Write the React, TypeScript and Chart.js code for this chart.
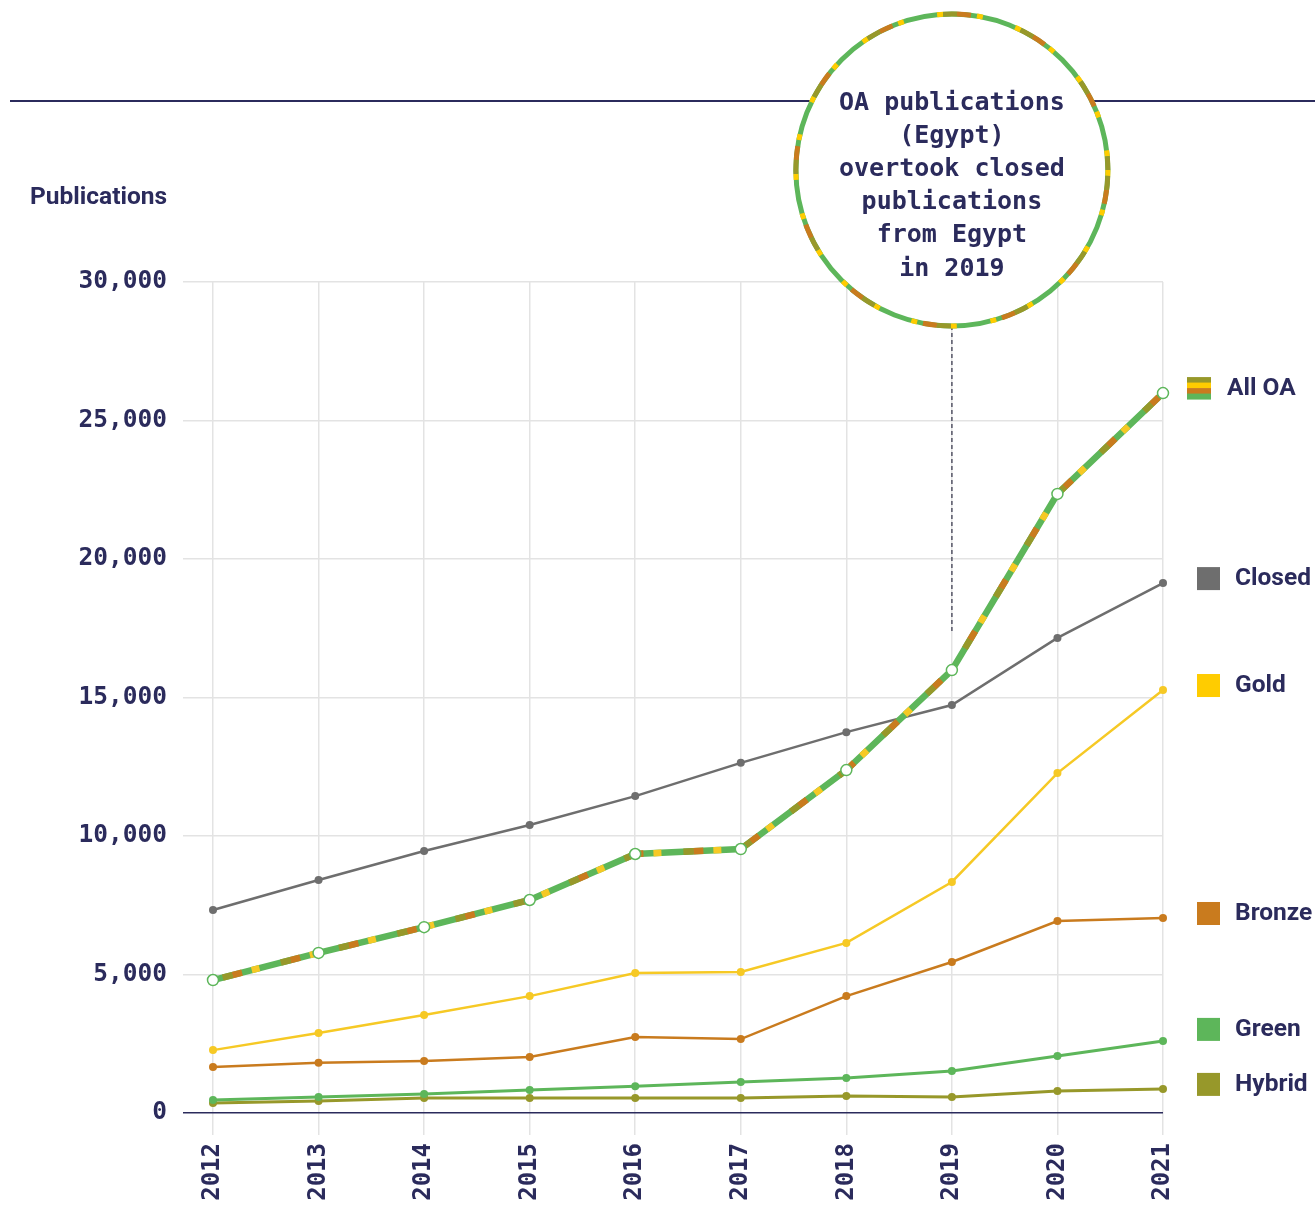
import React, { useEffect, useRef } from "react";
import { Chart, registerables } from "chart.js";

Chart.register(...registerables);

const years = ["2012", "2013", "2014", "2015", "2016", "2017", "2018", "2019", "2020", "2021"];
const allOA = [4800, 5780, 6710, 7690, 9350, 9530, 12380, 15990, 22350, 25990];
const closed = [7330, 8410, 9460, 10400, 11440, 12640, 13750, 14730, 17150, 19130];
const gold = [2270, 2890, 3540, 4220, 5050, 5090, 6140, 8340, 12270, 15270];
const bronze = [1660, 1810, 1880, 2020, 2740, 2670, 4220, 5450, 6930, 7040];
const green = [470, 580, 690, 830, 970, 1120, 1260, 1520, 2060, 2600];
const hybrid = [360, 430, 540, 540, 540, 540, 610, 580, 790, 870];
const yTickValues = [0, 5000, 10000, 15000, 20000, 25000, 30000];
const calloutYear = "2019";
const calloutLines = ["OA publications", "(Egypt)", "overtook closed", "publications", "from Egypt", "in 2019"];
const yAxisTitle = "Publications";

const NAVY = "#2b2b5c";
const C_CLOSED = "#6e6e6e";
const C_GOLD = "#f6c925";
const C_BRONZE = "#c97b1e";
const C_GREEN = "#5db65a";
const C_HYBRID = "#97982a";
const C_GOLD_SQ = "#ffcc00";
const GRID = "#e3e3e3";
const MONO = "'DejaVu Sans Mono', monospace";
const SANS = "Roboto, 'Noto Sans', sans-serif";

const legendItems = [
  { label: "All OA", data: allOA, color: "striped" },
  { label: "Closed", data: closed, color: C_CLOSED },
  { label: "Gold", data: gold, color: C_GOLD_SQ },
  { label: "Bronze", data: bronze, color: C_BRONZE },
  { label: "Green", data: green, color: C_GREEN },
  { label: "Hybrid", data: hybrid, color: C_HYBRID },
];

const stripeColors = [C_HYBRID, C_GOLD_SQ, C_BRONZE, C_GREEN];

const LINE_W = 6.5;

function overlay(color: string, len: number, start: number, period: number) {
  return {
    label: "_ov",
    data: allOA,
    borderColor: color,
    borderWidth: LINE_W,
    borderDash: [len, period - len],
    borderDashOffset: period - start,
    borderCapStyle: "butt",
    pointRadius: 0,
    pointHoverRadius: 0,
    fill: false,
    tension: 0,
    clip: false,
    order: 1,
  };
}

const decorPlugin = {
  id: "decor",
  beforeDraw(chart: any) {
    const ctx = chart.ctx;
    ctx.save();
    ctx.strokeStyle = NAVY;
    ctx.lineWidth = 2;
    ctx.beginPath();
    ctx.moveTo(10, 101);
    ctx.lineTo(chart.width, 101);
    ctx.stroke();
    ctx.fillStyle = NAVY;
    ctx.font = `bold 24.5px ${SANS}`;
    ctx.textAlign = "left";
    ctx.textBaseline = "middle";
    ctx.fillText(yAxisTitle, 30, 198);
    ctx.restore();
  },
  afterDraw(chart: any) {
    const ctx = chart.ctx;
    const xs = chart.scales.x;
    const ys = chart.scales.y;
    const idx = years.indexOf(calloutYear);
    const cx = xs.getPixelForValue(idx);
    const cy = 170;
    const r = 156;
    ctx.save();
    const pt = ys.getPixelForValue(allOA[idx]);
    ctx.strokeStyle = "#555566";
    ctx.lineWidth = 1.5;
    ctx.setLineDash([4, 3]);
    ctx.beginPath();
    ctx.moveTo(cx, cy + r);
    ctx.lineTo(cx, pt - 38);
    ctx.stroke();
    ctx.setLineDash([]);
    ctx.fillStyle = "#ffffff";
    ctx.beginPath();
    ctx.arc(cx, cy, r, 0, Math.PI * 2);
    ctx.fill();
    ctx.lineWidth = 5;
    ctx.strokeStyle = C_GREEN;
    ctx.stroke();
    const period = 80;
    const segs = [
      { c: C_GOLD_SQ, s: 0, l: 6 },
      { c: C_HYBRID, s: 6, l: 14 },
      { c: C_BRONZE, s: 20, l: 14 },
      { c: C_GOLD_SQ, s: 40, l: 6 },
    ];
    for (const sg of segs) {
      ctx.strokeStyle = sg.c;
      ctx.setLineDash([sg.l, period - sg.l]);
      ctx.lineDashOffset = period - sg.s;
      ctx.beginPath();
      ctx.arc(cx, cy, r, 0, Math.PI * 2);
      ctx.stroke();
    }
    ctx.setLineDash([]);
    ctx.lineDashOffset = 0;
    ctx.fillStyle = NAVY;
    ctx.font = `bold 25px ${MONO}`;
    ctx.textAlign = "center";
    ctx.textBaseline = "middle";
    calloutLines.forEach((t, i) => {
      ctx.fillText(t, cx, cy + 16 + (i - (calloutLines.length - 1) / 2) * 33.2);
    });
    const positions = legendItems.map((it) => ys.getPixelForValue(it.data[it.data.length - 1]) - 5);
    for (let i = positions.length - 2; i >= 0; i--) {
      positions[i] = Math.min(positions[i], positions[i + 1] - 55);
    }
    const lx = chart.chartArea.right + 34;
    legendItems.forEach((it, i) => {
      const y = positions[i];
      if (it.color === "striped") {
        const h = 22 / stripeColors.length;
        stripeColors.forEach((c, k) => {
          ctx.fillStyle = c;
          ctx.fillRect(lx - 10, y - 11 + k * h, 24, h + 0.5);
        });
      } else {
        ctx.fillStyle = it.color;
        ctx.fillRect(lx, y - 11, 23, 23);
      }
      ctx.fillStyle = NAVY;
      ctx.font = `bold 24.5px ${SANS}`;
      ctx.textAlign = "left";
      ctx.textBaseline = "middle";
      ctx.fillText(it.label, it.color === "striped" ? lx + 30 : lx + 38, y + 1);
    });
    ctx.restore();
  },
};

function simple(label: string, data: number[], color: string, width: number, order: number) {
  return {
    label,
    data,
    borderColor: color,
    backgroundColor: color,
    borderWidth: width,
    pointRadius: 4,
    pointBackgroundColor: color,
    pointBorderWidth: 0,
    pointHoverRadius: 4,
    fill: false,
    tension: 0,
    clip: false,
    order,
  };
}

export default function App() {
  const ref = useRef<HTMLCanvasElement | null>(null);
  useEffect(() => {
    document.body.style.margin = "0";
    const canvas = ref.current;
    if (!canvas) return;
    const chart = new Chart(canvas, {
      type: "line",
      data: {
        labels: years,
        datasets: [
          {
            label: "All OA points",
            data: allOA,
            showLine: false,
            pointRadius: 5.5,
            pointBackgroundColor: "#ffffff",
            pointBorderColor: C_GREEN,
            pointBorderWidth: 1.5,
            borderColor: C_GREEN,
            clip: false,
            order: 0,
          },
          overlay(C_HYBRID, 10, 10, 60),
          overlay(C_BRONZE, 10, 20, 60),
          overlay(C_GOLD, 8, 40, 60),
          {
            label: "All OA",
            data: allOA,
            borderColor: C_GREEN,
            borderWidth: LINE_W,
            pointRadius: 0,
            fill: false,
            tension: 0,
            clip: false,
            order: 2,
          },
          simple("Closed", closed, C_CLOSED, 2.5, 3),
          simple("Gold", gold, C_GOLD, 2.5, 4),
          simple("Bronze", bronze, C_BRONZE, 2.5, 5),
          simple("Green", green, C_GREEN, 3, 6),
          simple("Hybrid", hybrid, C_HYBRID, 3, 7),
        ] as any,
      },
      options: {
        animation: false,
        responsive: false,
        maintainAspectRatio: false,
        layout: { padding: { top: 282, right: 152, left: 0, bottom: 0 } },
        plugins: { legend: { display: false }, tooltip: { enabled: false } },
        scales: {
          x: {
            type: "category",
            offset: false,
            border: { display: false },
            grid: { color: GRID, lineWidth: 1.5, tickLength: 22, drawTicks: true },
            ticks: {
              color: NAVY,
              font: { family: MONO, size: 24, weight: "bold" },
              minRotation: 90,
              maxRotation: 90,
              padding: 8,
            },
            afterFit: (s: any) => {
              s.height = 93;
            },
          },
          y: {
            min: 0,
            max: 30000,
            border: { display: false },
            afterBuildTicks: (s: any) => {
              s.ticks = yTickValues.map((v) => ({ value: v }));
            },
            grid: {
              color: (c: any) => (c.tick && c.tick.value === 0 ? NAVY : GRID),
              tickColor: (c: any) => (c.tick && c.tick.value === 0 ? NAVY : GRID),
              lineWidth: 1.5,
              tickLength: 30,
            },
            ticks: {
              color: NAVY,
              font: { family: MONO, size: 24.5, weight: "bold" },
              padding: 16,
              callback: (v: any) => Number(v).toLocaleString("en-US"),
            },
            afterFit: (s: any) => {
              s.width = 213;
            },
          },
        },
      },
      plugins: [decorPlugin],
    });
    return () => chart.destroy();
  }, []);
  return (
    <div style={{ width: 1315, height: 1206, background: "#ffffff" }}>
      <canvas ref={ref} width={1315} height={1206} style={{ display: "block" }} />
    </div>
  );
}
